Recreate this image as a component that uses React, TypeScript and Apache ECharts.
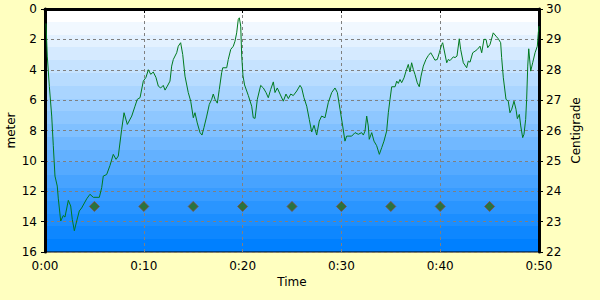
import React, { useEffect, useRef } from "react";
import * as echarts from "echarts";

// Depth profile (minutes, meters)
const depthTime = [
  0.1, 0.23, 0.44, 0.68, 0.84, 1.01, 1.24, 1.35, 1.59, 1.85, 2.02, 2.36, 2.6, 2.76, 2.97, 3.21, 3.47, 3.71, 4.22, 4.55,
  4.89, 5.5, 5.74, 5.9, 6.24, 6.58, 6.91, 7.19, 7.42, 7.76, 8.0, 8.33, 8.78, 9.11, 9.34, 9.62, 9.95, 10.22, 10.46, 10.7,
  10.96, 11.23, 11.47, 11.71, 11.97, 12.15, 12.38, 12.65, 12.82, 12.99, 13.33, 13.49, 13.73, 13.94, 14.17, 14.5, 14.75,
  15.01, 15.18, 15.41, 15.69, 15.89, 16.09, 16.37, 16.63, 16.87, 17.03, 17.21, 17.44, 17.64, 17.88, 17.99, 18.39, 18.55,
  18.8, 19.06, 19.23, 19.4, 19.56, 19.67, 19.81, 19.91, 20.04, 20.2, 20.58, 20.92, 21.08, 21.26, 21.49, 21.83, 22.1,
  22.37, 22.6, 22.84, 23.11, 23.28, 23.51, 23.79, 24.12, 24.39, 24.63, 24.87, 25.13, 25.48, 25.81, 25.98, 26.21, 26.49,
  26.75, 26.99, 27.23, 27.5, 27.76, 28.0, 28.34, 28.67, 29.02, 29.35, 29.59, 29.86, 30.13, 30.36, 30.53, 31.04, 31.38,
  31.71, 32.05, 32.22, 32.39, 32.56, 32.72, 32.82, 33.07, 33.3, 33.57, 33.84, 34.08, 34.31, 34.58, 34.75, 34.92, 35.09,
  35.43, 35.6, 35.76, 35.93, 36.1, 36.34, 36.54, 36.77, 36.94, 37.11, 37.28, 37.45, 37.68, 37.88, 38.06, 38.29, 38.56,
  38.8, 39.04, 39.24, 39.47, 39.71, 39.91, 40.15, 40.25, 40.66, 40.82, 40.99, 41.33, 41.5, 41.7, 41.93, 42.07, 42.34,
  42.68, 42.84, 43.02, 43.29, 43.52, 43.76, 44.03, 44.2, 44.43, 44.64, 44.81, 45.04, 45.37, 45.65, 45.88, 46.12, 46.22,
  46.39, 46.66, 46.89, 47.06, 47.24, 47.47, 47.67, 47.81, 48.01, 48.15, 48.35, 48.48, 48.65, 48.75, 48.86, 48.96, 49.16,
  49.36, 49.6, 49.83, 49.93, 50.0,
];
const depthMeters = [
  0.95, 3.1, 5.1, 7.05, 9.0, 11.0, 11.66, 12.5, 13.96, 13.6, 13.7, 12.6, 12.97, 13.85, 14.6, 13.96, 13.3, 13.1, 12.5, 12.2,
  12.4, 12.4, 11.76, 11.0, 10.9, 10.3, 9.57, 9.9, 9.68, 7.93, 6.83, 7.6, 7.05, 6.4, 5.95, 5.84, 4.75, 4.5, 4.0, 4.3,
  4.15, 4.5, 5.08, 5.2, 5.03, 5.34, 5.08, 4.75, 3.76, 3.32, 2.88, 2.45, 2.22, 3.0, 4.42, 5.5, 6.07,
  7.16, 6.83, 7.5, 8.14, 8.3, 7.8, 7.05, 6.28, 5.95, 5.6, 5.95, 6.2, 5.3, 4.2, 3.87, 3.87, 3.32,
  2.66, 2.45, 2.12, 1.57, 0.69, 0.58, 1.13, 3.1, 4.4, 5.0, 5.7, 6.4, 7.16, 7.2, 5.95, 5.03, 5.2,
  5.5, 5.84, 5.3, 4.8, 5.5, 5.2, 5.6, 6.07, 5.6, 5.9, 5.6, 5.7, 5.4, 5.03, 5.2, 5.84, 6.4,
  7.27, 8.1, 7.66, 8.3, 7.38, 7.05, 7.16, 6.17, 5.5, 5.2, 5.5, 6.6, 7.7, 8.7, 8.37, 8.37, 8.14,
  8.25, 8.14, 8.3, 8.04, 7.05, 7.7, 8.58, 8.14, 8.7, 9.0, 9.57, 9.13, 8.7, 8.04, 6.83, 5.95, 5.12,
  5.12, 4.75, 4.9, 4.64, 4.85, 4.53, 4.09, 3.65, 4.15, 3.54, 3.98, 4.31, 4.86, 5.12, 4.42, 3.76, 3.32,
  3.06, 2.88, 3.1, 3.37, 3.32, 2.88, 2.34, 2.22, 3.54, 3.32, 3.4, 3.15, 3.2, 3.1, 1.96, 2.66, 3.54,
  3.87, 3.43, 3.5, 2.88, 2.78, 2.66, 2.45, 2.88, 2.0, 2.0, 2.55, 2.34, 1.57, 1.79, 1.96, 2.22, 3.2,
  4.53, 5.95, 6.07, 6.83, 6.6, 6.07, 6.6, 7.22, 6.94, 7.7, 8.47, 8.25, 7.27, 5.95, 3.76, 2.62, 4.09,
  3.54, 2.88, 2.45, 1.57, 1.13,
];

// Temperature readings (minutes, °C)
const tempTime = [5, 10, 15, 20, 25, 30, 35, 40, 45];
const tempValues = [23.5, 23.5, 23.5, 23.5, 23.5, 23.5, 23.5, 23.5, 23.5];

const FONT = "DejaVu Sans";

function bandGradient() {
  const n = 19;
  const stops: { offset: number; color: string }[] = [];
  for (let i = 0; i < n; i++) {
    const t = i / (n - 1);
    const r = Math.round(255 * (1 - t));
    const g = Math.round(255 * (1 - t) + 128 * t);
    const c = `rgb(${r},${g},255)`;
    stops.push({ offset: i / n, color: c });
    stops.push({ offset: (i + 1) / n, color: c });
  }
  return new echarts.graphic.LinearGradient(0, 0, 0, 1, stops);
}

export default function App() {
  const ref = useRef<HTMLDivElement>(null);
  useEffect(() => {
    if (!ref.current) return;
    const chart = echarts.init(ref.current, undefined, { renderer: "svg" });
    const labelStyle = { color: "#000", fontFamily: FONT, fontSize: 12 };
    chart.setOption({
      animation: false,
      backgroundColor: "#FFFFC0",
      grid: {
        left: 45,
        top: 9,
        width: 494,
        height: 243,
        containLabel: false,
        outerBoundsMode: "none",
        show: true,
        backgroundColor: bandGradient(),
        borderColor: "#000",
        borderWidth: 1,
      },
      xAxis: {
        type: "value",
        min: 0,
        max: 50,
        interval: 10,
        name: "Time",
        nameLocation: "middle",
        nameGap: 24,
        nameMoveOverlap: false,
        nameTextStyle: labelStyle,
        axisLine: { show: true, lineStyle: { color: "#000", width: 3 } },
        axisTick: { show: true, length: 4, lineStyle: { color: "#000", width: 1 } },
        axisLabel: { ...labelStyle, margin: 8, formatter: (v: number) => `0:${String(v).padStart(2, "0")}` },
        splitLine: { show: true, lineStyle: { color: "#808080", type: [3, 3], width: 1 } },
      },
      yAxis: [
        {
          type: "value",
          inverse: true,
          min: 0,
          max: 16,
          interval: 2,
          name: "meter",
          nameLocation: "middle",
          nameRotate: 90,
          nameGap: 28,
          nameMoveOverlap: false,
          nameTextStyle: labelStyle,
          axisLine: { show: true, lineStyle: { color: "#000", width: 3 } },
          axisTick: { show: true, length: 4, lineStyle: { color: "#000", width: 1 } },
          axisLabel: { ...labelStyle, margin: 8 },
          splitLine: { show: true, lineStyle: { color: "#808080", type: [3, 3], width: 1 } },
        },
        {
          type: "value",
          position: "right",
          min: 22,
          max: 30,
          interval: 1,
          name: "Centigrade",
          nameLocation: "middle",
          nameRotate: 90,
          nameGap: 31,
          nameMoveOverlap: false,
          nameTextStyle: labelStyle,
          axisLine: { show: true, lineStyle: { color: "#000", width: 3 } },
          axisTick: { show: true, length: 4, lineStyle: { color: "#000", width: 1 } },
          axisLabel: { ...labelStyle, margin: 7 },
          splitLine: { show: false },
        },
      ],
      series: [
        {
          name: "Depth",
          type: "line",
          yAxisIndex: 0,
          data: depthTime.map((t, i) => [t, depthMeters[i]]),
          showSymbol: false,
          symbol: "none",
          lineStyle: { color: "#007A1F", width: 1 },
          z: 3,
        },
        {
          name: "Temperature",
          type: "scatter",
          yAxisIndex: 1,
          data: tempTime.map((t, i) => [t, tempValues[i]]),
          symbol: "diamond",
          symbolSize: 10,
          itemStyle: { color: "#2A6A10", borderColor: "#8B4A3C", borderWidth: 1 },
          z: 4,
        },
      ],
    });
    return () => chart.dispose();
  }, []);
  return <div ref={ref} style={{ position: "fixed", left: 0, top: 0, width: 600, height: 300 }} />;
}
